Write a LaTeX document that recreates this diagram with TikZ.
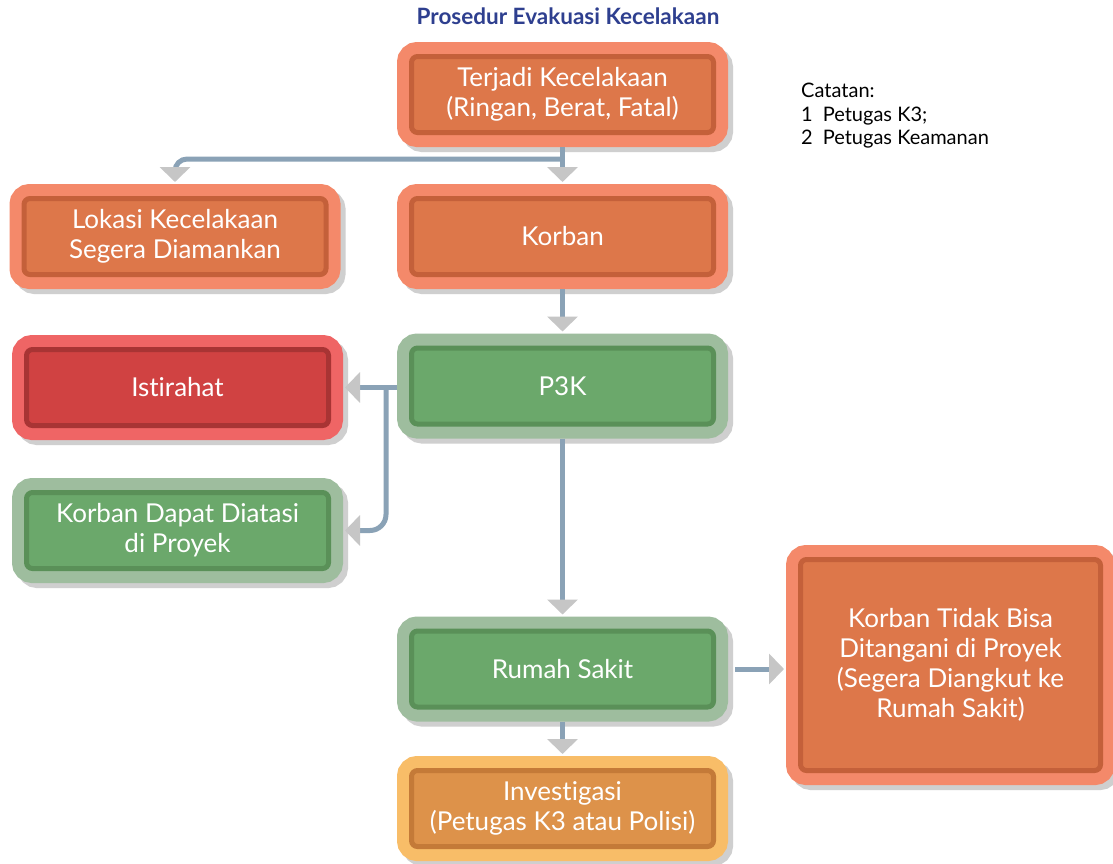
\documentclass[tikz,border=0pt]{standalone}
\usepackage{fontspec}
\setmainfont{Lato}[Ligatures=NoCommon]
\usetikzlibrary{arrows.meta}
\definecolor{orangeouter}{HTML}{F4896A}
\definecolor{orangefill}{HTML}{DD774A}
\definecolor{orangeline}{HTML}{C4603A}
\definecolor{redouter}{HTML}{EF6565}
\definecolor{redfill}{HTML}{D04242}
\definecolor{redline}{HTML}{A83434}
\definecolor{greenouter}{HTML}{9EBD9E}
\definecolor{greenfill}{HTML}{6BA86B}
\definecolor{greenline}{HTML}{5A9058}
\definecolor{yellowouter}{HTML}{F8BD68}
\definecolor{yellowfill}{HTML}{DD924A}
\definecolor{yellowline}{HTML}{C47A38}
\definecolor{linkblue}{HTML}{8AA2B6}
\definecolor{tipgray}{HTML}{C6C6C6}
\definecolor{shadowgray}{HTML}{CFCFCF}
\definecolor{titleblue}{HTML}{2E3F8F}
\newcommand{\boxfont}{\fontsize{26}{30}\selectfont}

\begin{document}
\begin{tikzpicture}
                \tikzset{x=1pt, y=-1pt}
                \tikzstyle{box}=[rectangle, rounded corners=6pt, line width=5pt, minimum width=302pt, minimum height=76pt, inner sep=0pt, outer sep=14.5pt, align=center, text=white, font=\boxfont,
                        preaction={draw=shadowgray, line width=29pt, transform canvas={shift={(5pt,-5pt)}}}]
                \tikzstyle{orangebox}=[box, draw=orangeline, fill=orangefill, preaction={draw=orangeouter, line width=29pt}]
                \tikzstyle{redbox}=[box, draw=redline, fill=redfill, preaction={draw=redouter, line width=29pt}]
                \tikzstyle{greenbox}=[box, draw=greenline, fill=greenfill, preaction={draw=greenouter, line width=29pt}]
                \tikzstyle{yellowbox}=[box, draw=yellowline, fill=yellowfill, preaction={draw=yellowouter, line width=29pt}]
                \tikzstyle{link}=[draw=linkblue, line width=5pt, -{Triangle[length=15pt, width=30pt, color=tipgray]}, shorten >=2pt]

                \useasboundingbox[fill=white] (0, 0) rectangle (1113, 863);

                \draw (568.0, 16.0)    node[font=\fontsize{22.5}{26}\selectfont\bfseries, text=titleblue] (title) {Prosedur Evakuasi Kecelakaan};
                \draw (801.0, 83.0)    node[anchor=north west, align=left, inner sep=0pt, font=\fontsize{20}{23.5}\selectfont] (notes)
                        {Catatan:\\1\hspace{0.5em}Petugas K3;\\2\hspace{0.5em}Petugas Keamanan};

                \draw (562.5, 94.5)    node[orangebox] (terjadi)   {Terjadi Kecelakaan\\(Ringan, Berat, Fatal)};
                \draw (175.0, 236.5)   node[orangebox] (lokasi)    {Lokasi Kecelakaan\\Segera Diamankan};
                \draw (562.5, 236.5)   node[orangebox] (korban)    {Korban};
                \draw (177.5, 387.5)   node[redbox]    (istirahat) {Istirahat};
                \draw (562.5, 386.0)   node[greenbox]  (p3k)       {P3K};
                \draw (177.5, 530.5)   node[greenbox]  (diatasi)   {Korban Dapat Diatasi\\di Proyek};
                \draw (562.5, 669.0)   node[greenbox]  (rumah)     {Rumah Sakit};
                \draw (562.5, 808.5)   node[yellowbox] (investigasi) {Investigasi\\(Petugas K3 atau Polisi)};
                \draw (950.5, 665.0)   node[orangebox, minimum width=300pt, minimum height=211pt] (tidak)
                        {Korban Tidak Bisa\\Ditangani di Proyek\\(Segera Diangkut ke\\Rumah Sakit)};

                \coordinate (fork)  at (562.5, 159.0);
                \coordinate (split) at (386.0, 387.5);

                \draw [link]                        (terjadi) -- (korban);
                \draw [link, rounded corners=12pt]  (fork) -| (lokasi);
                \draw [link]                        (korban) -- (p3k);
                \draw [link]                        (p3k.west |- split) -- (istirahat);
                \draw [link, rounded corners=16pt]  (split) |- (diatasi);
                \draw [link]                        (p3k) -- (rumah);
                \draw [link, shorten <=7pt]         (rumah.east) -- (rumah.east -| tidak.west);
                \draw [link]                        (rumah) -- (investigasi);
            \end{tikzpicture}
\end{document}
